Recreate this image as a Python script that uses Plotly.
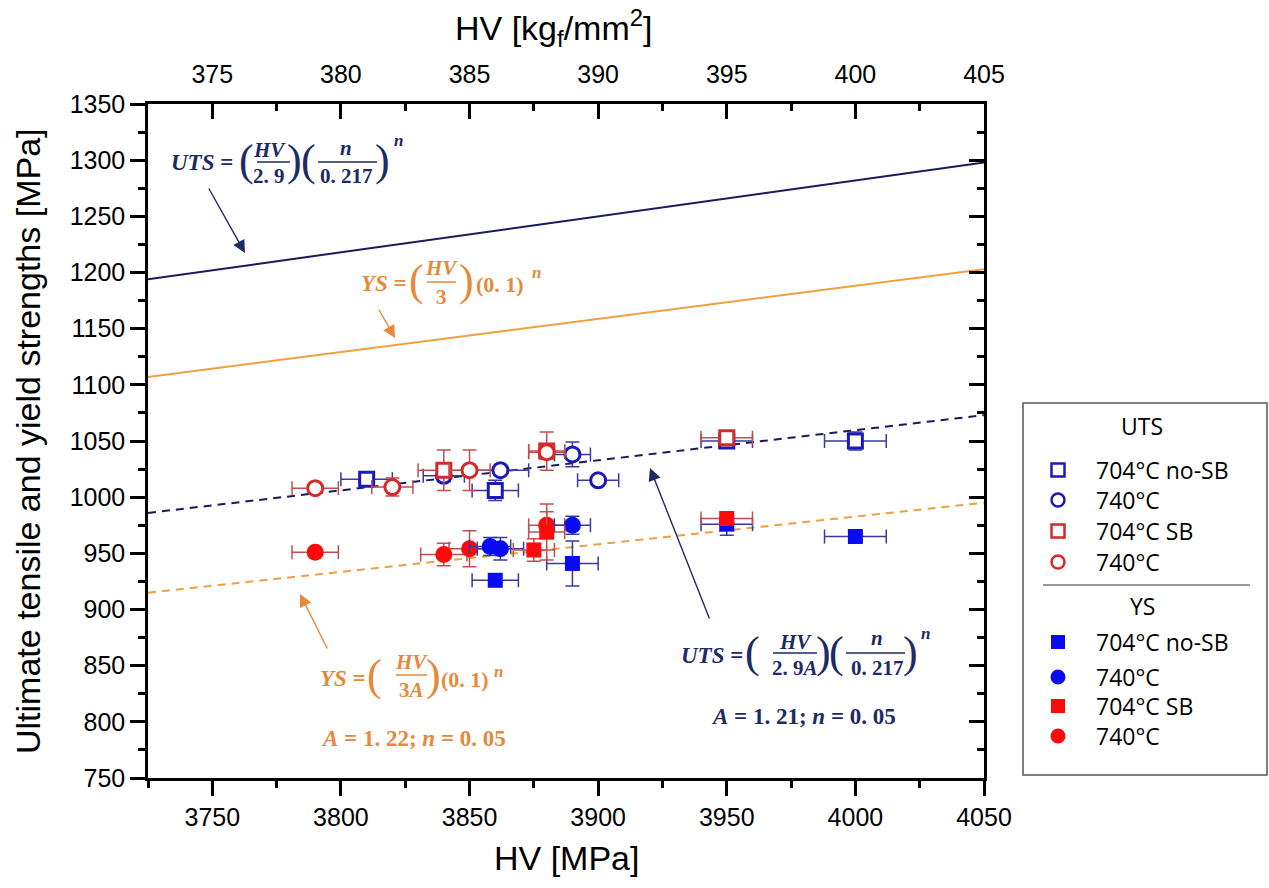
import plotly.graph_objects as go

# ---------------- data ----------------
# model lines (end points)
hv_line = [3725, 4050]
uts_line = [1194, 1298]
ys_line = [1107, 1203]
uts_dash = [986, 1073]
ys_dash = [915, 995]

# UTS, 704°C no-SB (open blue squares)
uts_a_hv = [3810, 3860, 3950, 4000]
uts_a_val = [1016, 1006, 1050, 1050]
uts_a_hverr = [10, 9, 10, 12]
uts_a_err = [3, 9, 4, 8]
# UTS, 740°C no-SB (open blue circles)
uts_b_hv = [3840, 3862, 3890, 3900]
uts_b_val = [1019, 1024, 1038, 1015]
uts_b_hverr = [8, 11, 7, 8]
uts_b_err = [5, 3, 11, 3]
# UTS, 704°C SB (open red squares)
uts_c_hv = [3840, 3880, 3950]
uts_c_val = [1024, 1041, 1053]
uts_c_hverr = [10, 7, 10]
uts_c_err = [18, 17, 4]
# UTS, 740°C SB (open red circles)
uts_d_hv = [3790, 3820, 3850, 3880]
uts_d_val = [1008, 1009, 1024, 1040]
uts_d_hverr = [9, 8, 8, 7]
uts_d_err = [3, 8, 18, 6]

# YS, 704°C no-SB (filled blue squares)
ys_a_hv = [3860, 3890, 3950, 4000]
ys_a_val = [926, 941, 976, 965]
ys_a_hverr = [9, 10, 10, 12]
ys_a_err = [3, 20, 10, 3]
# YS, 740°C no-SB (filled blue circles)
ys_b_hv = [3858, 3862, 3890]
ys_b_val = [956, 954, 975]
ys_b_hverr = [8, 9, 7]
ys_b_err = [8, 10, 8]
# YS, 704°C SB (filled red squares)
ys_c_hv = [3875, 3880, 3950]
ys_c_val = [953, 969, 981]
ys_c_hverr = [8, 7, 10]
ys_c_err = [10, 25, 5]
# YS, 740°C SB (filled red circles)
ys_d_hv = [3790, 3840, 3850, 3880]
ys_d_val = [951, 949, 954, 975]
ys_d_hverr = [9, 9, 8, 7]
ys_d_err = [3, 10, 16, 12]

x_ticks = [3750, 3800, 3850, 3900, 3950, 4000, 4050]
x2_ticks = [375, 380, 385, 390, 395, 400, 405]
y_ticks = [750, 800, 850, 900, 950, 1000, 1050, 1100, 1150, 1200, 1250, 1300, 1350]

legend_uts = ["704°C no-SB", "740°C", "704°C SB", "740°C"]
legend_ys = ["704°C no-SB", "740°C", "704°C SB", "740°C"]

# ---------------- style ----------------
W, H = 1269, 888
L, R, T, B = 148, 984, 104, 778
NAVY = "#1c2a66"
ORANGE = "#e6893a"
LINE_NAVY = "#1a1a5e"
LINE_ORANGE = "#f0a040"
BLUE_O = "#1a1ab8"
BLUE_F = "#0a0af5"
RED_O = "#d42a2a"
RED_F = "#ff0a0a"
EB_BLUE = "#3a3aa0"
EB_RED = "#c05050"
SANS = "Liberation Sans Narrow, Arial Narrow, Liberation Sans, Arial, sans-serif"
LEGF = "Open Sans, Liberation Sans, Arial, sans-serif"
SERIF = "Liberation Serif, Times New Roman, serif"


def px(x):
    return (x - L) / (R - L)


def py(y):
    return (B - y) / (B - T)


fig = go.Figure()

# model lines
fig.add_trace(go.Scatter(x=hv_line, y=uts_line, mode="lines",
                         line=dict(color=LINE_NAVY, width=2)))
fig.add_trace(go.Scatter(x=hv_line, y=ys_line, mode="lines",
                         line=dict(color=LINE_ORANGE, width=2)))
fig.add_trace(go.Scatter(x=hv_line, y=uts_dash, mode="lines",
                         line=dict(color=LINE_NAVY, width=2, dash="8px,6px")))
fig.add_trace(go.Scatter(x=hv_line, y=ys_dash, mode="lines",
                         line=dict(color=LINE_ORANGE, width=2, dash="8px,6px")))


def pts(hv, val, hverr, err, symbol, fill, edge, ebc, size=14):
    fig.add_trace(go.Scatter(
        x=hv, y=val, mode="markers",
        marker=dict(symbol=symbol, size=size, color=fill,
                    line=dict(color=edge, width=3 if fill == "white" else 0)),
        error_x=dict(type="data", array=hverr, color=ebc, thickness=1.5, width=7),
        error_y=dict(type="data", array=err, color=ebc, thickness=1.5, width=7),
    ))


# YS
pts(ys_d_hv, ys_d_val, ys_d_hverr, ys_d_err, "circle", RED_F, RED_F, EB_RED, 17)
pts(ys_b_hv, ys_b_val, ys_b_hverr, ys_b_err, "circle", BLUE_F, BLUE_F, EB_BLUE, 17)
pts(ys_a_hv, ys_a_val, ys_a_hverr, ys_a_err, "square", BLUE_F, BLUE_F, EB_BLUE, 15)
pts(ys_c_hv, ys_c_val, ys_c_hverr, ys_c_err, "square", RED_F, RED_F, EB_RED, 15)
# UTS
pts(uts_a_hv, uts_a_val, uts_a_hverr, uts_a_err, "square", "white", BLUE_O, EB_BLUE, 14)
pts(uts_b_hv, uts_b_val, uts_b_hverr, uts_b_err, "circle", "white", BLUE_O, EB_BLUE, 15)
pts(uts_c_hv, uts_c_val, uts_c_hverr, uts_c_err, "square", "white", RED_O, EB_RED, 14)
pts(uts_d_hv, uts_d_val, uts_d_hverr, uts_d_err, "circle", "white", RED_O, EB_RED, 15)

# invisible trace to carry the top / right axes
fig.add_trace(go.Scatter(x=[x2_ticks[0], x2_ticks[-1]], y=[y_ticks[0], y_ticks[0]],
                         xaxis="x2", yaxis="y2", mode="lines",
                         line=dict(width=0, color="rgba(0,0,0,0)"), hoverinfo="skip"))

annotations = []
shapes = []


def txt(x, y, s, size, color, anchor="center", family=SERIF, angle=0):
    annotations.append(dict(x=px(x), y=py(y), xref="paper", yref="paper", text=s,
                            showarrow=False, xanchor=anchor, yanchor="middle",
                            textangle=angle,
                            font=dict(size=size, color=color, family=family)))


def hline(x0, x1, y, color, width=1.5):
    shapes.append(dict(type="line", xref="paper", yref="paper",
                       x0=px(x0), x1=px(x1), y0=py(y), y1=py(y),
                       line=dict(color=color, width=width)))


def arrow(tx, ty, hx, hy, color):
    annotations.append(dict(x=px(hx), y=py(hy), xref="paper", yref="paper",
                            ax=tx - hx, ay=ty - hy, text="", showarrow=True,
                            arrowhead=2, arrowsize=1.8, arrowwidth=1.4,
                            arrowcolor=color, standoff=0))


def paren(x, y, s, color):
    txt(x, y, s, 44, color, family=SERIF)


def frac(cx, ny, dy, ly, x0, x1, num, den, color, size=21):
    txt(cx, ny, num, size, color)
    txt(cx, dy, den, size, color)
    hline(x0, x1, ly, color, 1.5)


# --- top UTS equation ---
txt(202, 163, "<b><i>UTS</i> =</b>", 23, NAVY)
paren(246, 160, "(", NAVY)
frac(269, 150, 176, 162, 257, 290, "<b><i>HV</i></b>", "<b>2. 9</b>", NAVY)
paren(294, 160, ")", NAVY)
paren(308, 160, "(", NAVY)
frac(346, 148, 176, 162, 318, 377, "<b><i>n</i></b>", "<b>0. 217</b>", NAVY)
paren(382, 160, ")", NAVY)
txt(398, 141, "<b><i>n</i></b>", 17, NAVY)
arrow(208, 187, 245, 253, NAVY)

# --- top YS equation ---
txt(384, 283, "<b><i>YS</i> =</b>", 23, ORANGE)
paren(416, 280, "(", ORANGE)
frac(441, 268, 297, 282, 427, 456, "<b><i>HV</i></b>", "<b>3</b>", ORANGE)
paren(466, 280, ")", ORANGE)
txt(500, 284, "<b>(0. 1)</b>", 22, ORANGE)
txt(536, 272, "<b><i>n</i></b>", 17, ORANGE)
arrow(378, 308, 395, 338, ORANGE)

# --- lower YS equation ---
txt(343, 678, "<b><i>YS</i> =</b>", 23, ORANGE)
paren(374, 675, "(", ORANGE)
frac(411, 662, 690, 675, 396, 427, "<b><i>HV</i></b>", "<b>3<i>A</i></b>", ORANGE)
paren(433, 675, ")", ORANGE)
txt(465, 679, "<b>(0. 1)</b>", 22, ORANGE)
txt(498, 671, "<b><i>n</i></b>", 17, ORANGE)
txt(413, 738, "<b><i>A</i> = 1. 22; <i>n</i> = 0. 05</b>", 23, ORANGE)
arrow(328, 650, 300, 594, ORANGE)

# --- lower UTS equation ---
txt(712, 655, "<b><i>UTS</i> =</b>", 23, NAVY)
paren(752, 652, "(", NAVY)
frac(795, 642, 668, 653, 773, 817, "<b><i>HV</i></b>", "<b>2. 9<i>A</i></b>", NAVY)
paren(823, 652, ")", NAVY)
paren(836, 652, "(", NAVY)
frac(877, 638, 668, 653, 846, 905, "<b><i>n</i></b>", "<b>0. 217</b>", NAVY)
paren(910, 652, ")", NAVY)
txt(925, 633, "<b><i>n</i></b>", 17, NAVY)
txt(803, 716, "<b><i>A</i> = 1. 21; <i>n</i> = 0. 05</b>", 23, NAVY)
arrow(710, 620, 650, 468, NAVY)

# --- axis titles ---
txt(566, 858, "HV [MPa]", 34, "black", family=SANS)
txt(553, 28, "HV [kg<sub>f</sub>/mm<sup>2</sup>]", 34, "black", family=SANS)
txt(28, 441, "Ultimate tensile and yield strengths [MPa]", 34, "black", family=SANS, angle=-90)

# --- legend (custom box) ---
shapes.append(dict(type="rect", xref="paper", yref="paper",
                   x0=px(1023), x1=px(1267), y0=py(403), y1=py(775),
                   line=dict(color="#555555", width=1.5), fillcolor="white", layer="below"))
hline(1043, 1250, 585, "#333333", 1)
txt(1142, 426, "UTS", 23, "black", family=LEGF)
txt(1142, 606, "YS", 23, "black", family=LEGF)

leg_rows_uts = [470, 500, 531, 562]
leg_rows_ys = [642, 677, 706, 736]
leg_style = [("rect", BLUE_O, False), ("circle", BLUE_O, False),
             ("rect", RED_O, False), ("circle", RED_O, False)]
leg_style_ys = [("rect", BLUE_F, True), ("circle", BLUE_F, True),
                ("rect", RED_F, True), ("circle", RED_F, True)]


def leg_marker(kind, color, filled, cy, r=6.5):
    shapes.append(dict(type=kind, xref="paper", yref="paper",
                       x0=px(1058 - r), x1=px(1058 + r), y0=py(cy + r), y1=py(cy - r),
                       line=dict(color=color, width=0 if filled else 2.5),
                       fillcolor=color if filled else "white"))


for lab, cy, (k, c, f) in zip(legend_uts, leg_rows_uts, leg_style):
    leg_marker(k, c, f, cy)
    txt(1094, cy, lab, 23, "black", anchor="left", family=LEGF)
for lab, cy, (k, c, f) in zip(legend_ys, leg_rows_ys, leg_style_ys):
    leg_marker(k, c, f, cy, 7.5 if k == "circle" else 7)
    txt(1094, cy, lab, 23, "black", anchor="left", family=LEGF)

tickfont = dict(size=25, color="black", family=SANS)

fig.update_layout(
    width=W, height=H,
    margin=dict(l=L, r=W - R, t=T, b=H - B, pad=0),
    paper_bgcolor="white", plot_bgcolor="white",
    showlegend=False,
    xaxis=dict(range=[hv_line[0], hv_line[1]], tickvals=x_ticks, ticks="outside",
               ticklen=15, tickwidth=2.5, tickcolor="black",
               showline=True, linecolor="black", linewidth=2.5, showgrid=False,
               zeroline=False, tickfont=tickfont,
               minor=dict(dtick=25, tick0=3725, ticks="outside", ticklen=7,
                          tickwidth=2.5, tickcolor="black", showgrid=False)),
    xaxis2=dict(range=[372.5, 405], overlaying="x", side="top", tickvals=x2_ticks,
                ticks="inside", ticklen=15, tickwidth=2.5, tickcolor="black",
                showline=True, linecolor="black", linewidth=2.5, showgrid=False,
                zeroline=False, tickfont=tickfont, ticklabelstandoff=8,
                minor=dict(dtick=2.5, tick0=372.5, ticks="inside", ticklen=7,
                           tickwidth=2.5, tickcolor="black", showgrid=False)),
    yaxis=dict(range=[y_ticks[0], y_ticks[-1]], tickvals=y_ticks, ticks="outside",
               ticklen=15, tickwidth=2.5, tickcolor="black",
               showline=True, linecolor="black", linewidth=2.5, showgrid=False,
               zeroline=False, tickfont=tickfont,
               minor=dict(dtick=25, tick0=750, ticks="outside", ticklen=7,
                          tickwidth=2.5, tickcolor="black", showgrid=False)),
    yaxis2=dict(range=[y_ticks[0], y_ticks[-1]], overlaying="y", side="right",
                tickvals=y_ticks, ticks="inside", ticklen=15, tickwidth=2.5,
                tickcolor="black", showticklabels=False,
                showline=True, linecolor="black", linewidth=2.5, showgrid=False,
                zeroline=False,
                minor=dict(dtick=25, tick0=750, ticks="inside", ticklen=7,
                           tickwidth=2.5, tickcolor="black", showgrid=False)),
    annotations=annotations,
    shapes=shapes,
)

fig.write_html("out.html")
